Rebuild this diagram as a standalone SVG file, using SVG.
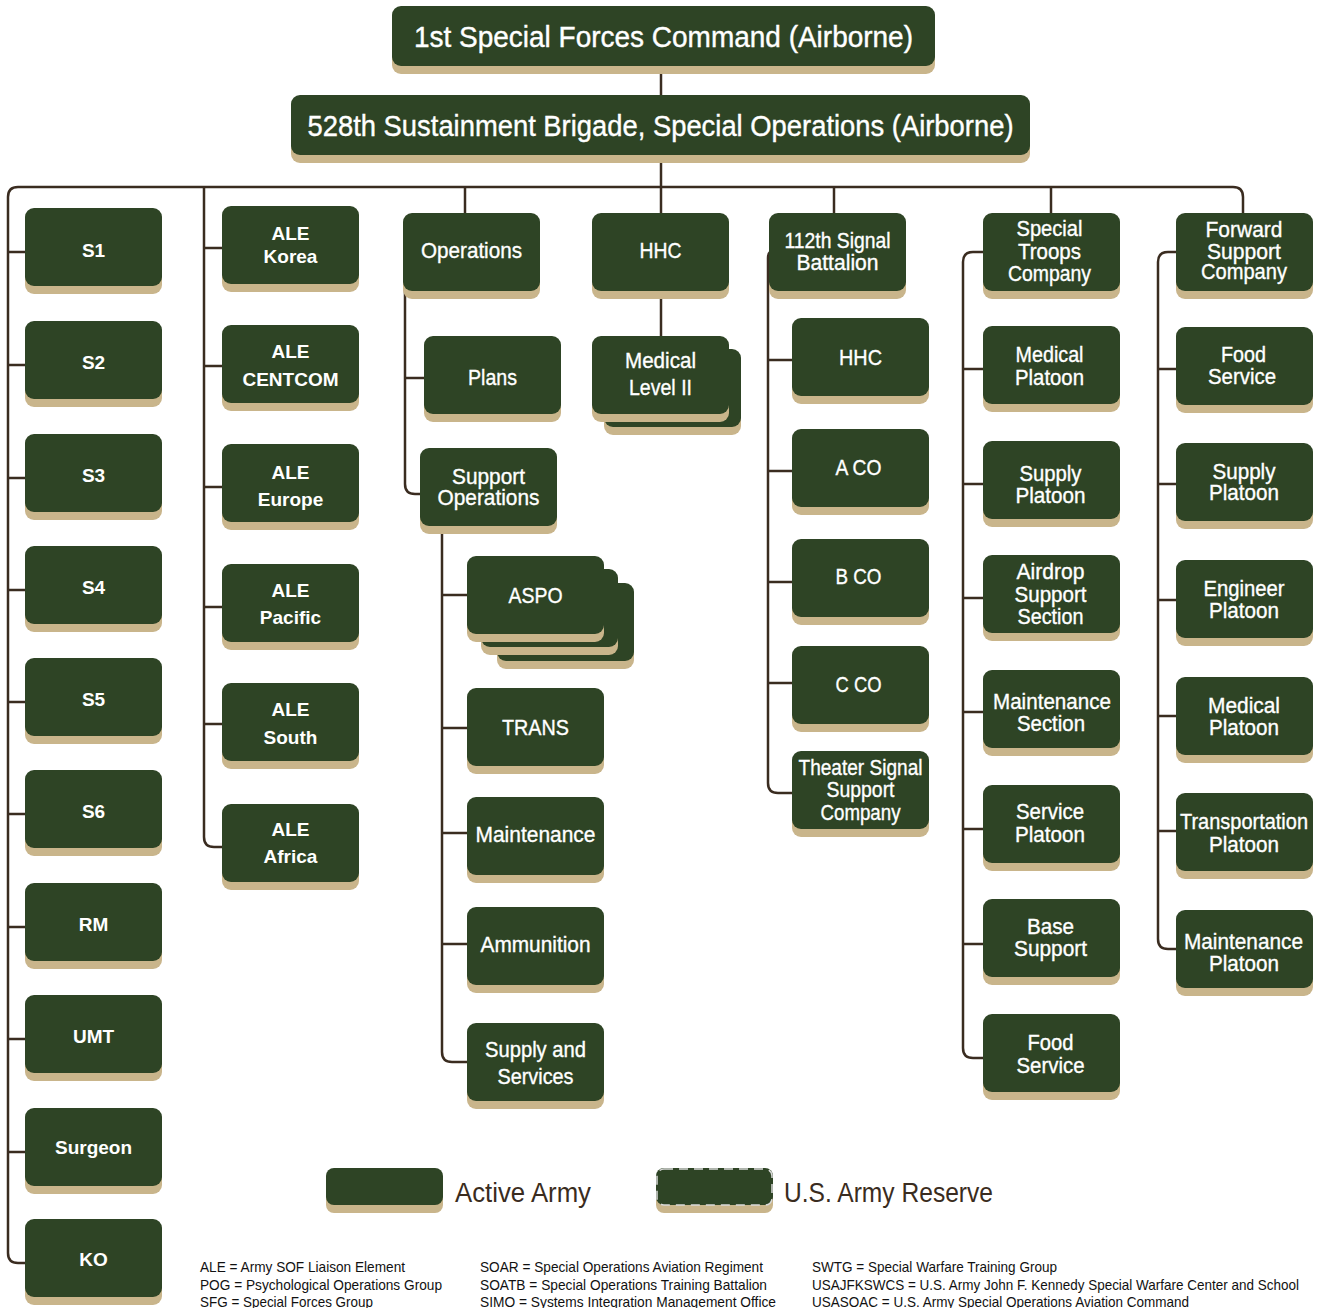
<svg xmlns="http://www.w3.org/2000/svg" width="1318" height="1308" viewBox="0 0 1318 1308">
<style>
.sh{fill:#c9b58b}
.bx{fill:#2e4425}
.t{font-family:"Liberation Sans",Arial,sans-serif;font-size:22px;fill:#fff;text-anchor:middle;stroke:#fff;stroke-width:0.35}
.tb{font-family:"Liberation Sans",Arial,sans-serif;font-size:19px;font-weight:bold;fill:#fff;text-anchor:middle}
.hd{font-family:"Liberation Sans",Arial,sans-serif;font-size:30px;fill:#fff;text-anchor:middle;stroke:#fff;stroke-width:0.4}
.ln{stroke:#3a2c20;stroke-width:2.5;fill:none}
.lg{font-family:"Liberation Sans",Arial,sans-serif;font-size:27px;fill:#3a2c20}
.fn{font-family:"Liberation Sans",Arial,sans-serif;font-size:15px;fill:#111}
.dash{fill:none;stroke:#d9d9d9;stroke-width:1.5;stroke-dasharray:9 6}
</style>
<rect width="1318" height="1308" fill="#fff"/>
<g id="connectors" class="ln">
<path d="M661,60 V100"/>
<path d="M661,150 V340"/>
<path d="M25,1263 H18 Q8,1263 8,1253 V197 Q8,187 18,187 H1233 Q1243,187 1243,197 V220"/>
<path d="M8,252 H25 M8,365 H25 M8,478 H25 M8,590 H25 M8,702 H25 M8,814 H25 M8,927 H25 M8,1039 H25 M8,1152 H25"/>
<path d="M204,187 V837 Q204,847 214,847 H222"/>
<path d="M204,248 H222 M204,366 H222 M204,487 H222 M204,607 H222 M204,724 H222"/>
<path d="M465,187 V220"/>
<path d="M405,285 V484 Q405,494 415,494 H422"/>
<path d="M405,378 H426"/>
<path d="M442,530 V1052 Q442,1062 452,1062 H469"/>
<path d="M442,595 H469 M442,728 H469 M442,833 H469 M442,944 H469"/>
<path d="M834,187 V220"/>
<path d="M776,250 Q768,250 768,258 V783 Q768,793 778,793 H794"/>
<path d="M768,360 H794 M768,471 H794 M768,582 H794 M768,683 H794"/>
<path d="M1051,187 V220"/>
<path d="M985,252 H973 Q963,252 963,262 V1048 Q963,1058 973,1058 H985"/>
<path d="M963,369 H985 M963,484 H985 M963,598 H985 M963,712 H985 M963,829 H985 M963,944 H985"/>
<path d="M1178,252 H1168 Q1158,252 1158,262 V939 Q1158,949 1168,949 H1178"/>
<path d="M1158,369 H1178 M1158,484 H1178 M1158,600 H1178 M1158,716 H1178 M1158,831 H1178"/>
</g>

<g id="n-1sfc"><rect class="sh" x="392" y="14" width="543" height="60" rx="9"/><rect class="bx" x="392" y="6" width="543" height="60" rx="9"/><text class="hd" x="663.5" y="46.5" textLength="499" lengthAdjust="spacingAndGlyphs">1st Special Forces Command (Airborne)</text></g>
<g id="n-528"><rect class="sh" x="291" y="103" width="739" height="60" rx="9"/><rect class="bx" x="291" y="95" width="739" height="60" rx="9"/><text class="hd" x="660.5" y="135.5" textLength="706" lengthAdjust="spacingAndGlyphs">528th Sustainment Brigade, Special Operations (Airborne)</text></g>

<g id="n-s1"><rect class="sh" x="25" y="216" width="137" height="78" rx="9"/><rect class="bx" x="25" y="208" width="137" height="78" rx="9"/><text class="tb" x="93.5" y="257">S1</text></g>
<g id="n-s2"><rect class="sh" x="25" y="329" width="137" height="78" rx="9"/><rect class="bx" x="25" y="321" width="137" height="78" rx="9"/><text class="tb" x="93.5" y="369">S2</text></g>
<g id="n-s3"><rect class="sh" x="25" y="442" width="137" height="78" rx="9"/><rect class="bx" x="25" y="434" width="137" height="78" rx="9"/><text class="tb" x="93.5" y="482">S3</text></g>
<g id="n-s4"><rect class="sh" x="25" y="554" width="137" height="78" rx="9"/><rect class="bx" x="25" y="546" width="137" height="78" rx="9"/><text class="tb" x="93.5" y="594">S4</text></g>
<g id="n-s5"><rect class="sh" x="25" y="666" width="137" height="78" rx="9"/><rect class="bx" x="25" y="658" width="137" height="78" rx="9"/><text class="tb" x="93.5" y="706">S5</text></g>
<g id="n-s6"><rect class="sh" x="25" y="778" width="137" height="78" rx="9"/><rect class="bx" x="25" y="770" width="137" height="78" rx="9"/><text class="tb" x="93.5" y="818">S6</text></g>
<g id="n-rm"><rect class="sh" x="25" y="891" width="137" height="78" rx="9"/><rect class="bx" x="25" y="883" width="137" height="78" rx="9"/><text class="tb" x="93.5" y="931">RM</text></g>
<g id="n-umt"><rect class="sh" x="25" y="1003" width="137" height="78" rx="9"/><rect class="bx" x="25" y="995" width="137" height="78" rx="9"/><text class="tb" x="93.5" y="1043">UMT</text></g>
<g id="n-surgeon"><rect class="sh" x="25" y="1116" width="137" height="78" rx="9"/><rect class="bx" x="25" y="1108" width="137" height="78" rx="9"/><text class="tb" x="93.5" y="1154">Surgeon</text></g>
<g id="n-ko"><rect class="sh" x="25" y="1227" width="137" height="78" rx="9"/><rect class="bx" x="25" y="1219" width="137" height="78" rx="9"/><text class="tb" x="93.5" y="1266">KO</text></g>

<g id="n-ale-korea"><rect class="sh" x="222" y="214" width="137" height="78" rx="9"/><rect class="bx" x="222" y="206" width="137" height="78" rx="9"/><text class="tb" x="290.5" y="240">ALE</text><text class="tb" x="290.5" y="263">Korea</text></g>
<g id="n-ale-centcom"><rect class="sh" x="222" y="333" width="137" height="78" rx="9"/><rect class="bx" x="222" y="325" width="137" height="78" rx="9"/><text class="tb" x="290.5" y="358">ALE</text><text class="tb" x="290.5" y="386">CENTCOM</text></g>
<g id="n-ale-europe"><rect class="sh" x="222" y="452" width="137" height="78" rx="9"/><rect class="bx" x="222" y="444" width="137" height="78" rx="9"/><text class="tb" x="290.5" y="479">ALE</text><text class="tb" x="290.5" y="506">Europe</text></g>
<g id="n-ale-pacific"><rect class="sh" x="222" y="572" width="137" height="78" rx="9"/><rect class="bx" x="222" y="564" width="137" height="78" rx="9"/><text class="tb" x="290.5" y="597">ALE</text><text class="tb" x="290.5" y="624">Pacific</text></g>
<g id="n-ale-south"><rect class="sh" x="222" y="691" width="137" height="78" rx="9"/><rect class="bx" x="222" y="683" width="137" height="78" rx="9"/><text class="tb" x="290.5" y="716">ALE</text><text class="tb" x="290.5" y="744">South</text></g>
<g id="n-ale-africa"><rect class="sh" x="222" y="812" width="137" height="78" rx="9"/><rect class="bx" x="222" y="804" width="137" height="78" rx="9"/><text class="tb" x="290.5" y="836">ALE</text><text class="tb" x="290.5" y="863">Africa</text></g>

<g id="n-operations"><rect class="sh" x="403" y="221" width="137" height="78" rx="9"/><rect class="bx" x="403" y="213" width="137" height="78" rx="9"/><text class="t" x="471.5" y="258" textLength="101" lengthAdjust="spacingAndGlyphs">Operations</text></g>
<g id="n-plans"><rect class="sh" x="424" y="344" width="137" height="78" rx="9"/><rect class="bx" x="424" y="336" width="137" height="78" rx="9"/><text class="t" x="492.5" y="385" textLength="49" lengthAdjust="spacingAndGlyphs">Plans</text></g>
<g id="n-supportops"><rect class="sh" x="420" y="456" width="137" height="78" rx="9"/><rect class="bx" x="420" y="448" width="137" height="78" rx="9"/><text class="t" x="488.5" y="484" textLength="73" lengthAdjust="spacingAndGlyphs">Support</text><text class="t" x="488.5" y="505" textLength="102" lengthAdjust="spacingAndGlyphs">Operations</text></g>
<g id="n-aspo"><rect class="sh" x="497" y="591" width="137" height="78" rx="9"/><rect class="bx" x="497" y="583" width="137" height="78" rx="9"/><rect class="sh" x="481" y="577" width="137" height="78" rx="9"/><rect class="bx" x="481" y="569" width="137" height="78" rx="9"/><rect class="sh" x="467" y="564" width="137" height="78" rx="9"/><rect class="bx" x="467" y="556" width="137" height="78" rx="9"/><text class="t" x="535.5" y="603" textLength="54" lengthAdjust="spacingAndGlyphs">ASPO</text></g>
<g id="n-trans"><rect class="sh" x="467" y="696" width="137" height="78" rx="9"/><rect class="bx" x="467" y="688" width="137" height="78" rx="9"/><text class="t" x="535.5" y="735" textLength="67" lengthAdjust="spacingAndGlyphs">TRANS</text></g>
<g id="n-maintenance"><rect class="sh" x="467" y="805" width="137" height="78" rx="9"/><rect class="bx" x="467" y="797" width="137" height="78" rx="9"/><text class="t" x="535.5" y="842" textLength="120" lengthAdjust="spacingAndGlyphs">Maintenance</text></g>
<g id="n-ammunition"><rect class="sh" x="467" y="915" width="137" height="78" rx="9"/><rect class="bx" x="467" y="907" width="137" height="78" rx="9"/><text class="t" x="535.5" y="952" textLength="110" lengthAdjust="spacingAndGlyphs">Ammunition</text></g>
<g id="n-supplysvc"><rect class="sh" x="467" y="1031" width="137" height="78" rx="9"/><rect class="bx" x="467" y="1023" width="137" height="78" rx="9"/><text class="t" x="535.5" y="1057" textLength="101" lengthAdjust="spacingAndGlyphs">Supply and</text><text class="t" x="535.5" y="1084" textLength="76" lengthAdjust="spacingAndGlyphs">Services</text></g>

<g id="n-hhc"><rect class="sh" x="592" y="221" width="137" height="78" rx="9"/><rect class="bx" x="592" y="213" width="137" height="78" rx="9"/><text class="t" x="660.5" y="258" textLength="42" lengthAdjust="spacingAndGlyphs">HHC</text></g>
<g id="n-medical2"><rect class="sh" x="604" y="357" width="137" height="78" rx="9"/><rect class="bx" x="604" y="349" width="137" height="78" rx="9"/><rect class="sh" x="592" y="344" width="137" height="78" rx="9"/><rect class="bx" x="592" y="336" width="137" height="78" rx="9"/><text class="t" x="660.5" y="368" textLength="71" lengthAdjust="spacingAndGlyphs">Medical</text><text class="t" x="660.5" y="395" textLength="63" lengthAdjust="spacingAndGlyphs">Level II</text></g>

<g id="n-112sig"><rect class="sh" x="769" y="221" width="137" height="78" rx="9"/><rect class="bx" x="769" y="213" width="137" height="78" rx="9"/><text class="t" x="837.5" y="248" textLength="106" lengthAdjust="spacingAndGlyphs">112th Signal</text><text class="t" x="837.5" y="270" textLength="82" lengthAdjust="spacingAndGlyphs">Battalion</text></g>
<g id="n-sig-hhc"><rect class="sh" x="792" y="326" width="137" height="78" rx="9"/><rect class="bx" x="792" y="318" width="137" height="78" rx="9"/><text class="t" x="860.5" y="365" textLength="43" lengthAdjust="spacingAndGlyphs">HHC</text></g>
<g id="n-aco"><rect class="sh" x="792" y="437" width="137" height="78" rx="9"/><rect class="bx" x="792" y="429" width="137" height="78" rx="9"/><text class="t" x="858.5" y="475" textLength="46" lengthAdjust="spacingAndGlyphs">A CO</text></g>
<g id="n-bco"><rect class="sh" x="792" y="547" width="137" height="78" rx="9"/><rect class="bx" x="792" y="539" width="137" height="78" rx="9"/><text class="t" x="858.5" y="584" textLength="46" lengthAdjust="spacingAndGlyphs">B CO</text></g>
<g id="n-cco"><rect class="sh" x="792" y="654" width="137" height="78" rx="9"/><rect class="bx" x="792" y="646" width="137" height="78" rx="9"/><text class="t" x="858.5" y="692" textLength="46" lengthAdjust="spacingAndGlyphs">C CO</text></g>
<g id="n-tssc"><rect class="sh" x="792" y="759" width="137" height="78" rx="9"/><rect class="bx" x="792" y="751" width="137" height="78" rx="9"/><text class="t" x="860.5" y="775" textLength="124" lengthAdjust="spacingAndGlyphs">Theater Signal</text><text class="t" x="860.5" y="797" textLength="68" lengthAdjust="spacingAndGlyphs">Support</text><text class="t" x="860.5" y="820" textLength="80" lengthAdjust="spacingAndGlyphs">Company</text></g>

<g id="n-stc"><rect class="sh" x="983" y="221" width="137" height="78" rx="9"/><rect class="bx" x="983" y="213" width="137" height="78" rx="9"/><text class="t" x="1049.5" y="236" textLength="66" lengthAdjust="spacingAndGlyphs">Special</text><text class="t" x="1049.5" y="259" textLength="63" lengthAdjust="spacingAndGlyphs">Troops</text><text class="t" x="1049.5" y="281" textLength="83" lengthAdjust="spacingAndGlyphs">Company</text></g>
<g id="n-stc-med"><rect class="sh" x="983" y="334" width="137" height="78" rx="9"/><rect class="bx" x="983" y="326" width="137" height="78" rx="9"/><text class="t" x="1049.5" y="362" textLength="68" lengthAdjust="spacingAndGlyphs">Medical</text><text class="t" x="1049.5" y="385" textLength="69" lengthAdjust="spacingAndGlyphs">Platoon</text></g>
<g id="n-stc-sup"><rect class="sh" x="983" y="449" width="137" height="78" rx="9"/><rect class="bx" x="983" y="441" width="137" height="78" rx="9"/><text class="t" x="1050.5" y="481" textLength="62" lengthAdjust="spacingAndGlyphs">Supply</text><text class="t" x="1050.5" y="503" textLength="70" lengthAdjust="spacingAndGlyphs">Platoon</text></g>
<g id="n-stc-air"><rect class="sh" x="983" y="563" width="137" height="78" rx="9"/><rect class="bx" x="983" y="555" width="137" height="78" rx="9"/><text class="t" x="1050.5" y="579" textLength="68" lengthAdjust="spacingAndGlyphs">Airdrop</text><text class="t" x="1050.5" y="602" textLength="72" lengthAdjust="spacingAndGlyphs">Support</text><text class="t" x="1050.5" y="624" textLength="66" lengthAdjust="spacingAndGlyphs">Section</text></g>
<g id="n-stc-mnt"><rect class="sh" x="983" y="678" width="137" height="78" rx="9"/><rect class="bx" x="983" y="670" width="137" height="78" rx="9"/><text class="t" x="1052" y="709" textLength="118" lengthAdjust="spacingAndGlyphs">Maintenance</text><text class="t" x="1051" y="731" textLength="68" lengthAdjust="spacingAndGlyphs">Section</text></g>
<g id="n-stc-svc"><rect class="sh" x="983" y="793" width="137" height="78" rx="9"/><rect class="bx" x="983" y="785" width="137" height="78" rx="9"/><text class="t" x="1050" y="819" textLength="68" lengthAdjust="spacingAndGlyphs">Service</text><text class="t" x="1050" y="842" textLength="70" lengthAdjust="spacingAndGlyphs">Platoon</text></g>
<g id="n-stc-base"><rect class="sh" x="983" y="907" width="137" height="78" rx="9"/><rect class="bx" x="983" y="899" width="137" height="78" rx="9"/><text class="t" x="1050.5" y="934" textLength="47" lengthAdjust="spacingAndGlyphs">Base</text><text class="t" x="1050.5" y="956" textLength="73" lengthAdjust="spacingAndGlyphs">Support</text></g>
<g id="n-stc-food"><rect class="sh" x="983" y="1022" width="137" height="78" rx="9"/><rect class="bx" x="983" y="1014" width="137" height="78" rx="9"/><text class="t" x="1050.5" y="1050" textLength="46" lengthAdjust="spacingAndGlyphs">Food</text><text class="t" x="1050.5" y="1073" textLength="68" lengthAdjust="spacingAndGlyphs">Service</text></g>

<g id="n-fsc"><rect class="sh" x="1176" y="221" width="137" height="78" rx="9"/><rect class="bx" x="1176" y="213" width="137" height="78" rx="9"/><text class="t" x="1244" y="237" textLength="77" lengthAdjust="spacingAndGlyphs">Forward</text><text class="t" x="1244" y="259" textLength="74" lengthAdjust="spacingAndGlyphs">Support</text><text class="t" x="1244" y="279" textLength="86" lengthAdjust="spacingAndGlyphs">Company</text></g>
<g id="n-fsc-food"><rect class="sh" x="1176" y="335" width="137" height="78" rx="9"/><rect class="bx" x="1176" y="327" width="137" height="78" rx="9"/><text class="t" x="1243.5" y="362" textLength="45" lengthAdjust="spacingAndGlyphs">Food</text><text class="t" x="1242" y="384" textLength="68" lengthAdjust="spacingAndGlyphs">Service</text></g>
<g id="n-fsc-sup"><rect class="sh" x="1176" y="451" width="137" height="78" rx="9"/><rect class="bx" x="1176" y="443" width="137" height="78" rx="9"/><text class="t" x="1244" y="479" textLength="63" lengthAdjust="spacingAndGlyphs">Supply</text><text class="t" x="1244" y="500" textLength="70" lengthAdjust="spacingAndGlyphs">Platoon</text></g>
<g id="n-fsc-eng"><rect class="sh" x="1176" y="568" width="137" height="78" rx="9"/><rect class="bx" x="1176" y="560" width="137" height="78" rx="9"/><text class="t" x="1244" y="596" textLength="81" lengthAdjust="spacingAndGlyphs">Engineer</text><text class="t" x="1244" y="618" textLength="70" lengthAdjust="spacingAndGlyphs">Platoon</text></g>
<g id="n-fsc-med"><rect class="sh" x="1176" y="685" width="137" height="78" rx="9"/><rect class="bx" x="1176" y="677" width="137" height="78" rx="9"/><text class="t" x="1244" y="713" textLength="72" lengthAdjust="spacingAndGlyphs">Medical</text><text class="t" x="1244" y="735" textLength="70" lengthAdjust="spacingAndGlyphs">Platoon</text></g>
<g id="n-fsc-trn"><rect class="sh" x="1176" y="801" width="137" height="78" rx="9"/><rect class="bx" x="1176" y="793" width="137" height="78" rx="9"/><text class="t" x="1244" y="829" textLength="128" lengthAdjust="spacingAndGlyphs">Transportation</text><text class="t" x="1244" y="852" textLength="70" lengthAdjust="spacingAndGlyphs">Platoon</text></g>
<g id="n-fsc-mnt"><rect class="sh" x="1176" y="918" width="137" height="78" rx="9"/><rect class="bx" x="1176" y="910" width="137" height="78" rx="9"/><text class="t" x="1243.5" y="949" textLength="119" lengthAdjust="spacingAndGlyphs">Maintenance</text><text class="t" x="1244" y="971" textLength="70" lengthAdjust="spacingAndGlyphs">Platoon</text></g>

<g id="legend">
<rect class="sh" x="326" y="1176" width="117" height="37" rx="8"/><rect class="bx" x="326" y="1168" width="117" height="37" rx="8"/>
<text class="lg" x="455" y="1202" textLength="136" lengthAdjust="spacingAndGlyphs">Active Army</text>
<rect class="sh" x="656" y="1176" width="117" height="37" rx="8"/><rect class="bx" x="656" y="1168" width="117" height="37" rx="8"/><rect class="dash" x="657" y="1169" width="115" height="36" rx="7"/>
<text class="lg" x="784" y="1202" textLength="209" lengthAdjust="spacingAndGlyphs">U.S. Army Reserve</text>
</g>

<g id="notes">
<text class="fn" x="200" y="1272" textLength="205" lengthAdjust="spacingAndGlyphs">ALE = Army SOF Liaison Element</text>
<text class="fn" x="200" y="1290" textLength="242" lengthAdjust="spacingAndGlyphs">POG = Psychological Operations Group</text>
<text class="fn" x="200" y="1307" textLength="173" lengthAdjust="spacingAndGlyphs">SFG = Special Forces Group</text>
<text class="fn" x="480" y="1272" textLength="283" lengthAdjust="spacingAndGlyphs">SOAR = Special Operations Aviation Regiment</text>
<text class="fn" x="480" y="1290" textLength="287" lengthAdjust="spacingAndGlyphs">SOATB = Special Operations Training Battalion</text>
<text class="fn" x="480" y="1307" textLength="296" lengthAdjust="spacingAndGlyphs">SIMO = Systems Integration Management Office</text>
<text class="fn" x="812" y="1272" textLength="245" lengthAdjust="spacingAndGlyphs">SWTG = Special Warfare Training Group</text>
<text class="fn" x="812" y="1290" textLength="487" lengthAdjust="spacingAndGlyphs">USAJFKSWCS = U.S. Army John F. Kennedy Special Warfare Center and School</text>
<text class="fn" x="812" y="1307" textLength="377" lengthAdjust="spacingAndGlyphs">USASOAC = U.S. Army Special Operations Aviation Command</text>
</g>
</svg>
